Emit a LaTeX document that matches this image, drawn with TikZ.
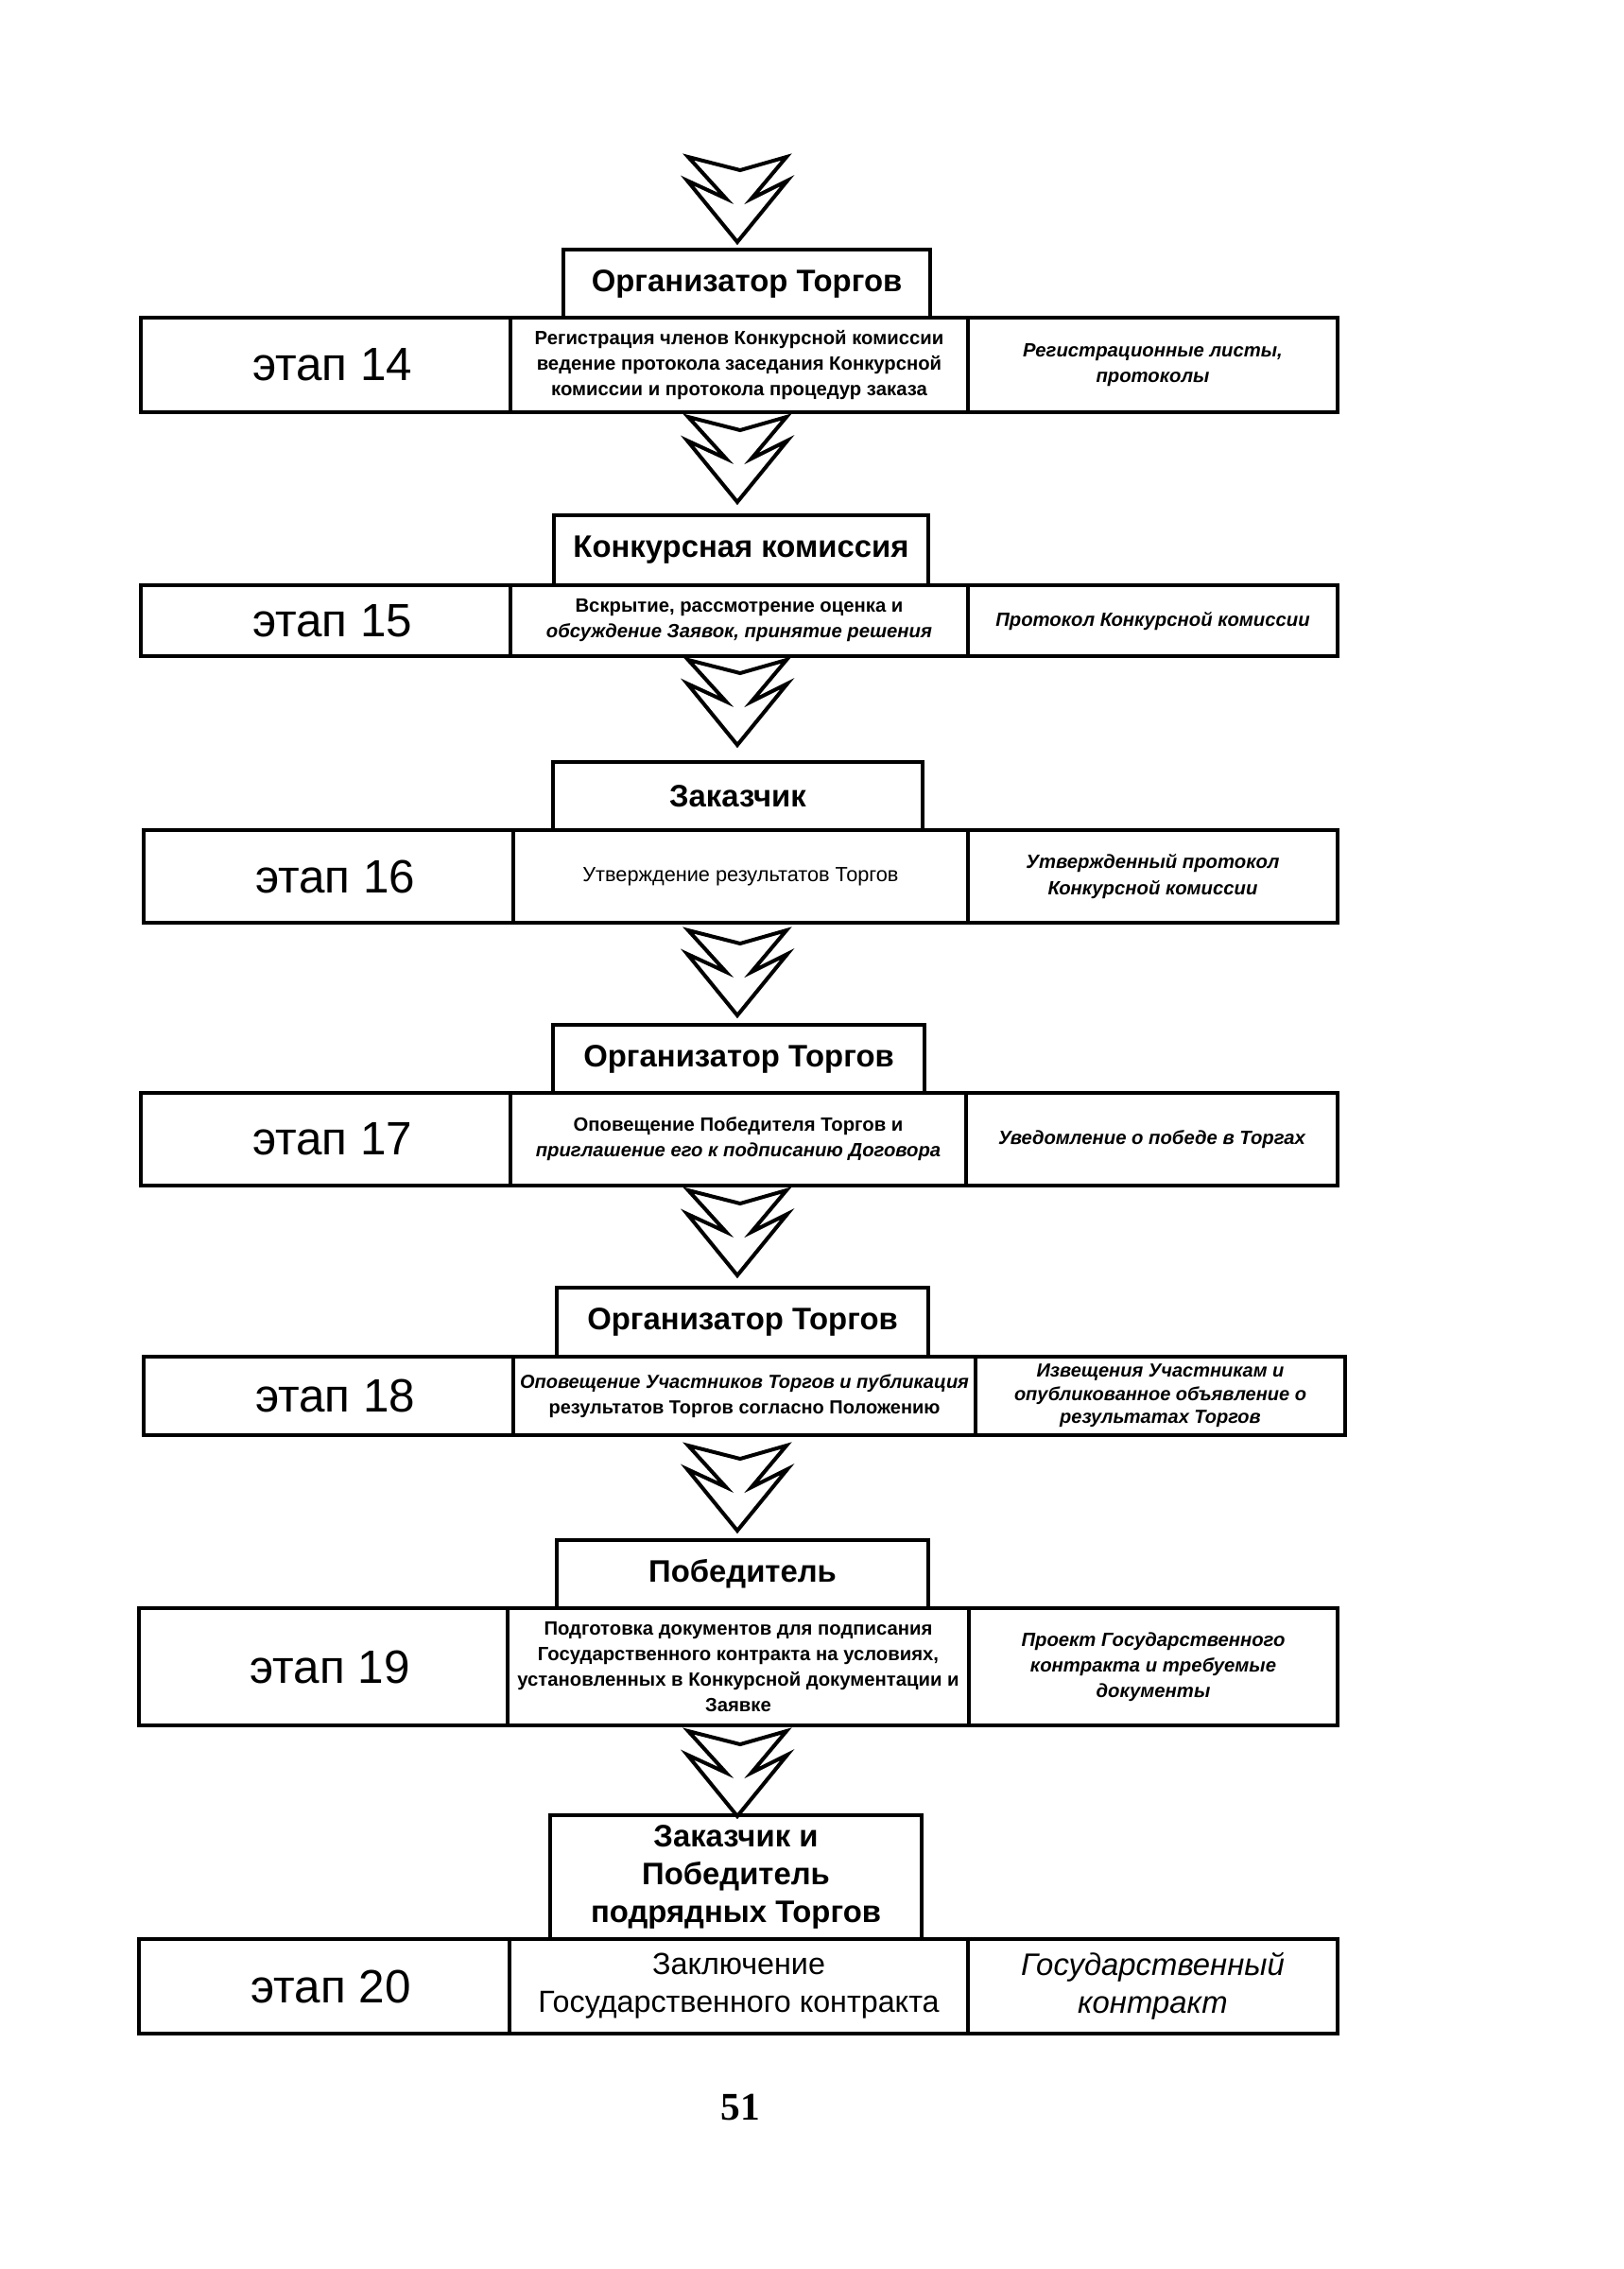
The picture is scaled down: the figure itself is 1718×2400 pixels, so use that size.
\documentclass[tikz,border=0pt]{standalone}
\usepackage{fontspec}
\setmainfont{Liberation Sans}
\newfontfamily\numfont{Liberation Serif}
\usetikzlibrary{fit}

\tikzset{
  cell/.style={draw, line width=1.6pt, inner sep=0pt},
  actor/.style={draw, line width=1.4pt, inner sep=0pt},
  actortxt/.style={align=center, font=\bfseries\fontsize{11.5}{14}\selectfont},
  stagelbl/.style={xshift=2.5pt, font=\fontsize{17.3}{20}\selectfont},
  work/.style={align=center, font=\bfseries\fontsize{7.1}{9.5}\selectfont},
  result/.style={align=center, font=\bfseries\itshape\fontsize{7.1}{9.5}\selectfont},
  zigarrow/.pic={
    \draw[line width=1.4pt, fill=white, line join=miter]
      (-52,0) -- (3,14) -- (52,0) -- (15,44) -- (53,25) -- (0,90)
      -- (-53,25) -- (-12,44) -- cycle;
  }
}

\begin{document}
\begin{tikzpicture}[x=0.35pt, y=-0.35pt]
    \useasboundingbox (0,0) rectangle (1718,2400);
    % flow arrows
    \pic at (780, 166) {zigarrow};
    \pic at (780, 441) {zigarrow};
    \pic at (780, 698) {zigarrow};
    \pic at (780, 984) {zigarrow};
    \pic at (780,1259) {zigarrow};
    \pic at (780,1529) {zigarrow};
    \pic at (780,1831) {zigarrow};
    % stage 14
    \node[actor, fit={(596,264) (984,336)}] (hdr14) {};
    \node[actortxt] at (hdr14) {Организатор Торгов};
    \node[cell, fit={(149,336) (540,436)}] (st14) {};
    \node[cell, fit={(540,336) (1024,436)}] (job14) {};
    \node[cell, fit={(1024,336) (1415,436)}] (doc14) {};
    \node[stagelbl] at (st14) {этап 14};
    \node[work] at (job14) {Регистрация членов Конкурсной комиссии\\ведение протокола заседания Конкурсной\\комиссии и протокола процедур заказа};
    \node[result] at (doc14) {Регистрационные листы,\\протоколы};
    % stage 15
    \node[actor, fit={(586,545) (982,619)}] (hdr15) {};
    \node[actortxt] at (hdr15) {Конкурсная комиссия};
    \node[cell, fit={(149,619) (540,694)}] (st15) {};
    \node[cell, fit={(540,619) (1024,694)}] (job15) {};
    \node[cell, fit={(1024,619) (1415,694)}] (doc15) {};
    \node[stagelbl] at (st15) {этап 15};
    \node[work] at (job15) {Вскрытие, рассмотрение  оценка и\\{\itshape обсуждение Заявок, принятие решения}};
    \node[result] at (doc15) {Протокол Конкурсной комиссии};
    % stage 16
    \node[actor, fit={(585,806) (976,878)}] (hdr16) {};
    \node[actortxt] at (hdr16) {Заказчик};
    \node[cell, fit={(152,878) (543,976)}] (st16) {};
    \node[cell, fit={(543,878) (1024,976)}] (job16) {};
    \node[cell, fit={(1024,878) (1415,976)}] (doc16) {};
    \node[stagelbl] at (st16) {этап 16};
    \node[font=\fontsize{7.6}{9.5}\selectfont] at (job16) {Утверждение результатов Торгов};
    \node[result] at (doc16) {Утвержденный протокол\\Конкурсной комиссии};
    % stage 17
    \node[actor, fit={(585,1084) (978,1156)}] (hdr17) {};
    \node[actortxt] at (hdr17) {Организатор Торгов};
    \node[cell, fit={(149,1156) (540,1254)}] (st17) {};
    \node[cell, fit={(540,1156) (1022,1254)}] (job17) {};
    \node[cell, fit={(1022,1156) (1415,1254)}] (doc17) {};
    \node[stagelbl] at (st17) {этап 17};
    \node[work] at (job17) {Оповещение Победителя Торгов и\\{\itshape приглашение его к подписанию Договора}};
    \node[result] at (doc17) {Уведомление о победе в Торгах};
    % stage 18
    \node[actor, fit={(589,1362) (982,1435)}] (hdr18) {};
    \node[actortxt] at (hdr18) {Организатор Торгов};
    \node[cell, fit={(152,1435) (543,1518)}] (st18) {};
    \node[cell, fit={(543,1435) (1032,1518)}] (job18) {};
    \node[cell, fit={(1032,1435) (1423,1518)}] (doc18) {};
    \node[stagelbl] at (st18) {этап 18};
    \node[work, font=\bfseries\fontsize{7}{9.5}\selectfont] at (job18) {{\itshape Оповещение Участников Торгов и публикация}\\результатов Торгов согласно Положению};
    \node[result, font=\bfseries\itshape\fontsize{7}{8.6}\selectfont] at (doc18) {Извещения Участникам и\\опубликованное объявление о\\результатах Торгов};
    % stage 19
    \node[actor, fit={(589,1629) (982,1701)}] (hdr19) {};
    \node[actortxt] at (hdr19) {Победитель};
    \node[cell, fit={(147,1701) (537,1825)}] (st19) {};
    \node[cell, fit={(537,1701) (1025,1825)}] (job19) {};
    \node[cell, fit={(1025,1701) (1415,1825)}] (doc19) {};
    \node[stagelbl] at (st19) {этап 19};
    \node[work] at (job19) {Подготовка документов для подписания\\Государственного контракта на условиях,\\установленных в Конкурсной документации и\\Заявке};
    \node[result] at (doc19) {Проект Государственного\\контракта и требуемые\\документы};
    % stage 20
    \node[actor, fit={(582,1920) (975,2051)}] (hdr20) {};
    \node[actortxt] at (hdr20) {Заказчик и\\Победитель\\подрядных Торгов};
    \node[cell, fit={(147,2051) (539,2151)}] (st20) {};
    \node[cell, fit={(539,2051) (1024,2151)}] (job20) {};
    \node[cell, fit={(1024,2051) (1415,2151)}] (doc20) {};
    \node[stagelbl] at (st20) {этап 20};
    \node[align=center, font=\fontsize{11.3}{14}\selectfont] at (job20) {Заключение\\Государственного контракта};
    \node[align=center, font=\itshape\fontsize{11.5}{14}\selectfont] at (doc20) {Государственный\\контракт};
    % page number
    \node[font=\numfont\bfseries\fontsize{14.5}{16}\selectfont] (pnum) at (783,2229) {51};
\end{tikzpicture}
\end{document}
